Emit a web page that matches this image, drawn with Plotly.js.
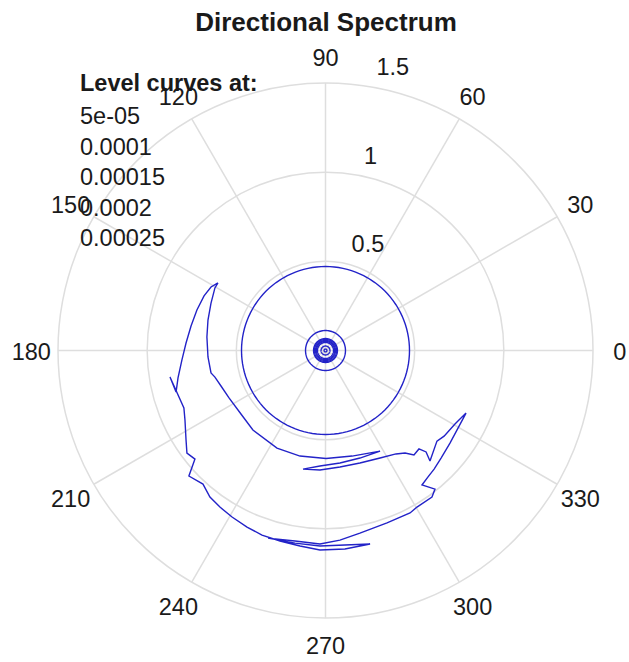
<!DOCTYPE html>
<html>
<head>
<meta charset="utf-8">
<script src="https://cdn.plot.ly/plotly-3.0.1.min.js"></script>
<style>html,body{margin:0;padding:0;background:#fff;}#chart{width:629px;height:662px;}</style>
</head>
<body>
<div id="chart"></div>
<script>
// ---- data ----
const chartTitle = 'Directional Spectrum';
const levelTitle = 'Level curves at:';
const levelLabels = ['5e-05', '0.0001', '0.00015', '0.0002', '0.00025'];
const angleTicks = [0, 30, 60, 90, 120, 150, 180, 210, 240, 270, 300, 330];
const radialTicks = [0.5, 1, 1.5];
const radialMax = 1.5;
// radii of the circular level curves (constant-radius contours)
const ringRadii = [0.471, 0.112, 0.067, 0.062, 0.056, 0.051, 0.045, 0.025, 0.008];
// vertices of the crescent level curve (cartesian, radial units)
const crescentX = [-0.603,-0.642,-0.681,-0.721,-0.754,-0.782,-0.805,-0.827,-0.838,-0.872,-0.794,-0.788,-0.782,-0.777,-0.732,-0.766,-0.687,-0.648,-0.592,-0.524,-0.440,-0.356,-0.255,-0.143,-0.031,0.109,0.250,0.109,-0.031,-0.171,-0.322,-0.171,-0.031,0.081,0.193,0.345,0.474,0.513,0.597,0.614,0.541,0.575,0.609,0.648,0.698,0.743,0.788,0.726,0.665,0.625,0.586,0.564,0.524,0.496,0.446,0.395,0.306,0.193,0.081,-0.031,-0.126,-0.031,0.081,0.193,0.306,0.149,0.003,-0.143,-0.272,-0.407,-0.474,-0.541,-0.586,-0.620,-0.642,-0.659,-0.665,-0.659,-0.642,-0.620,-0.603];
const crescentY = [0.379,0.356,0.306,0.227,0.137,0.042,-0.053,-0.154,-0.233,-0.149,-0.322,-0.390,-0.502,-0.575,-0.609,-0.704,-0.749,-0.822,-0.878,-0.934,-0.990,-1.035,-1.068,-1.096,-1.119,-1.113,-1.085,-1.091,-1.096,-1.080,-1.052,-1.068,-1.085,-1.063,-1.024,-0.967,-0.911,-0.878,-0.822,-0.777,-0.754,-0.709,-0.665,-0.603,-0.519,-0.435,-0.351,-0.412,-0.480,-0.508,-0.620,-0.569,-0.552,-0.586,-0.575,-0.580,-0.603,-0.631,-0.653,-0.670,-0.665,-0.648,-0.631,-0.603,-0.564,-0.592,-0.606,-0.592,-0.547,-0.446,-0.356,-0.266,-0.199,-0.149,-0.126,-0.036,0.076,0.171,0.266,0.351,0.379];

// ---- styles / geometry ----
const W = 629, H = 662;
const CX = 325.5, CY = 350.5, R = 267.5;      // centre and outer radius in pixels
const labelMax = 1.7;                          // radial extent of the label layers
const R2 = R * labelMax / radialMax;
const ANG_DY = 3.5;                            // vertical nudge of the angle-label layer (px)
const FONT = 'Liberation Sans, Arial, Helvetica, sans-serif';
const TXT = '#1a1a1a';
const LINE = '#2323c8';
const GRID = '#dedede';
const FS = 23.5;

const traces = [];
const ringTheta = [];
for (let t = 0; t <= 360; t += 3) ringTheta.push(t);
ringRadii.forEach(rr => {
  traces.push({type:'scatterpolar', subplot:'polar', mode:'lines', r: ringTheta.map(() => rr), theta: ringTheta,
    line:{color:LINE, width:1.4}, hoverinfo:'skip', showlegend:false});
});
traces.push({type:'scatterpolar', subplot:'polar', mode:'lines',
  r: crescentX.map((x,i) => Math.hypot(x, crescentY[i])),
  theta: crescentX.map((x,i) => Math.atan2(crescentY[i], x) * 180 / Math.PI),
  line:{color:LINE, width:1.4}, hoverinfo:'skip', showlegend:false});
// angular labels centred at 1.1*rmax (MATLAB polar style)
traces.push({type:'scatterpolar', subplot:'polar2', mode:'text', r: angleTicks.map(() => 1.1 * radialMax), theta: angleTicks,
  text: angleTicks.map(String), textposition:'middle center', cliponaxis:false,
  textfont:{family:FONT, size:FS, color:TXT}, hoverinfo:'skip', showlegend:false});
// radial labels at 82 degrees
traces.push({type:'scatterpolar', subplot:'polar3', mode:'text', r: radialTicks.map(v => v + 0.025), theta: radialTicks.map(() => 82),
  text: radialTicks.map(v => '\u00a0\u00a0' + v), textposition:'top right', cliponaxis:false,
  textfont:{family:FONT, size:FS, color:TXT}, hoverinfo:'skip', showlegend:false});

function labelLayer(dy) {
  return {
    domain:{x:[(CX-R2)/W, (CX+R2)/W], y:[(H-CY-dy-R2)/H, (H-CY-dy+R2)/H]},
    bgcolor:'rgba(0,0,0,0)',
    radialaxis:{range:[0, labelMax], showticklabels:false, ticks:'', showline:false, showgrid:false},
    angularaxis:{rotation:0, direction:'counterclockwise', showticklabels:false, ticks:'', showgrid:false, showline:false}
  };
}

const layout = {
  width: W, height: H,
  margin: {l:0, r:0, t:0, b:0},
  paper_bgcolor:'#ffffff', plot_bgcolor:'#ffffff',
  showlegend:false,
  title: {text:'<b>' + chartTitle + '</b>', font:{family:FONT, size:26, color:TXT},
    x: 326/W, xanchor:'center', xref:'paper', y: 1 - 22/H, yanchor:'middle', yref:'container'},
  polar: {
    domain:{x:[(CX-R)/W, (CX+R)/W], y:[(H-CY-R)/H, (H-CY+R)/H]},
    bgcolor:'#ffffff',
    radialaxis:{range:[0, radialMax], tickvals: radialTicks, showticklabels:false, ticks:'',
      showline:false, gridcolor:GRID, gridwidth:1.5},
    angularaxis:{rotation:0, direction:'counterclockwise', tickmode:'array', tickvals: angleTicks,
      showticklabels:false, ticks:'', gridcolor:GRID, gridwidth:1.5, showline:true, linecolor:GRID, linewidth:1.5}
  },
  polar2: labelLayer(ANG_DY),
  polar3: labelLayer(0),
  annotations: [
    {xref:'paper', yref:'paper', x:78/W, y:1 - 82.5/H, xanchor:'left', yanchor:'middle', align:'left',
     showarrow:false, font:{family:FONT, size:FS, color:TXT}, text:'<b>' + levelTitle + '</b>'},
    {xref:'paper', yref:'paper', x:78/W, y:1 - 101/H, xanchor:'left', yanchor:'top', align:'left',
     showarrow:false, font:{family:FONT, size:FS, color:TXT}, text: levelLabels.join('<br>')}
  ]
};

Plotly.newPlot('chart', traces, layout, {staticPlot:true, displayModeBar:false});
</script>
</body>
</html>
